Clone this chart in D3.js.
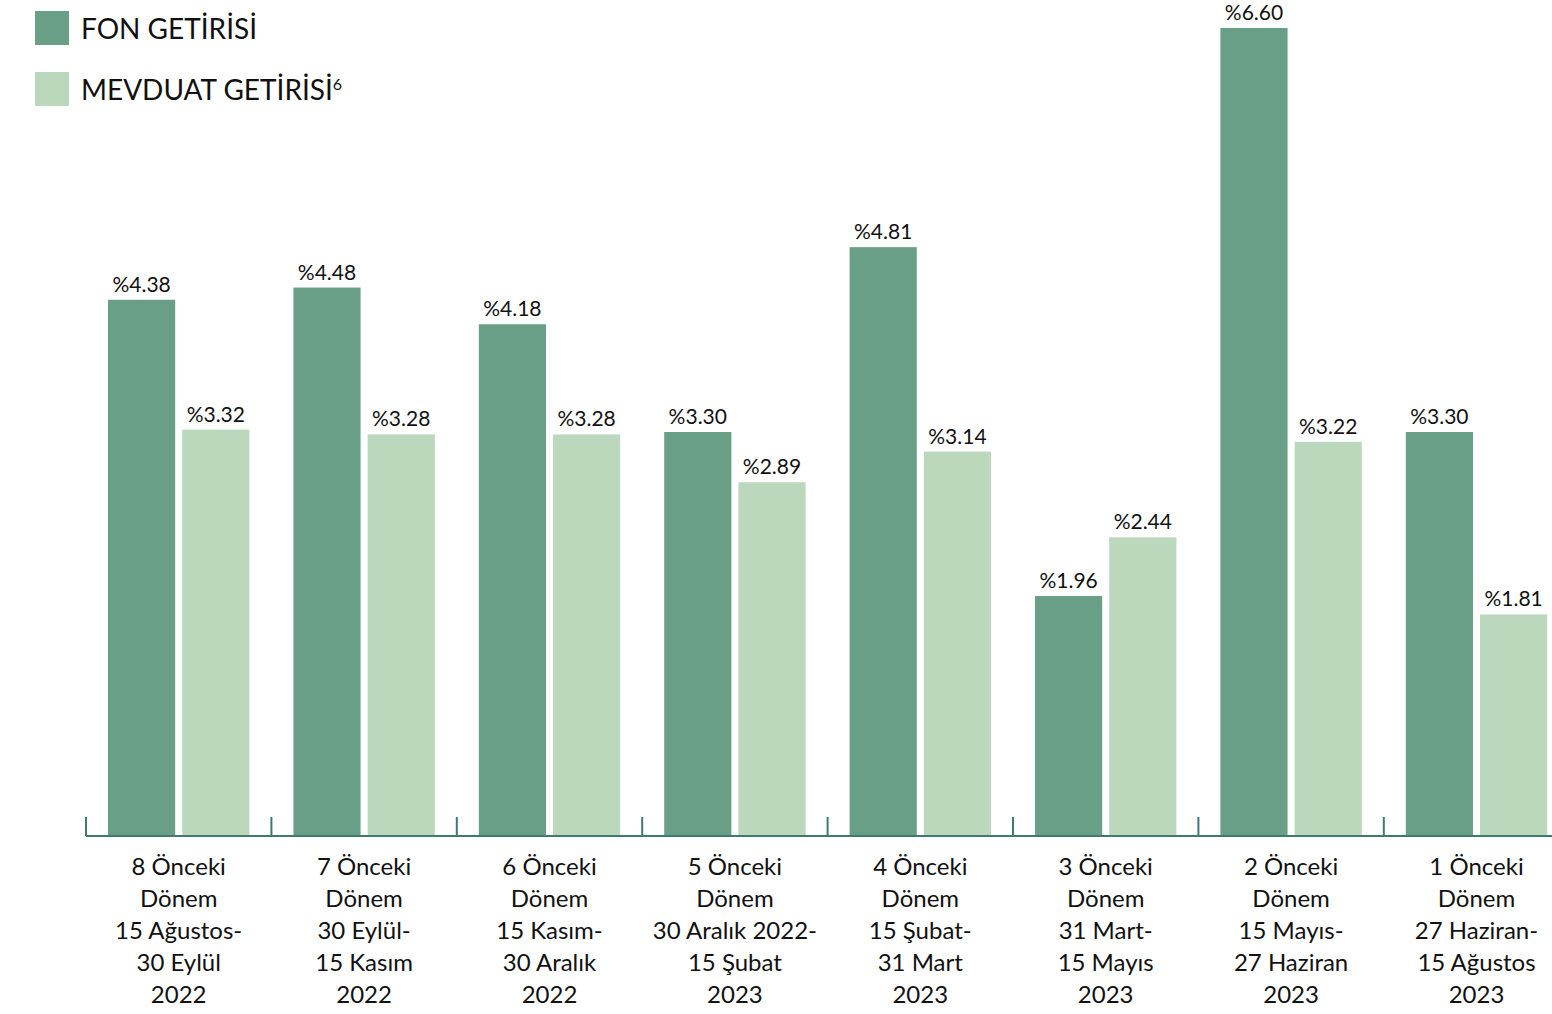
<!DOCTYPE html>
<html>
<head>
<meta charset="utf-8">
<script src="https://cdn.jsdelivr.net/npm/d3@7"></script>
<style>
  body { margin: 0; background: #fff; }
  svg text { font-family: Lato, "Noto Sans", sans-serif; fill: #111; }
</style>
</head>
<body>
<div id="chart"></div>
<script>
// categories: each label is split into lines
const periods = [
    ['8 Önceki', 'Dönem', '15 Ağustos-', '30 Eylül', '2022'],
    ['7 Önceki', 'Dönem', '30 Eylül-', '15 Kasım', '2022'],
    ['6 Önceki', 'Dönem', '15 Kasım-', '30 Aralık', '2022'],
    ['5 Önceki', 'Dönem', '30 Aralık 2022-', '15 Şubat', '2023'],
    ['4 Önceki', 'Dönem', '15 Şubat-', '31 Mart', '2023'],
    ['3 Önceki', 'Dönem', '31 Mart-', '15 Mayıs', '2023'],
    ['2 Önceki', 'Dönem', '15 Mayıs-', '27 Haziran', '2023'],
    ['1 Önceki', 'Dönem', '27 Haziran-', '15 Ağustos', '2023']
];
const fonGetirisi = [4.38, 4.48, 4.18, 3.30, 4.81, 1.96, 6.60, 3.30];
const mevduatGetirisi = [3.32, 3.28, 3.28, 2.89, 3.14, 2.44, 3.22, 1.81];
const seriesNames = ['FON GETİRİSİ', 'MEVDUAT GETİRİSİ'];
const seriesColors = ['#6a9f87', '#bcd8bc'];

const width = 1552, height = 1014;
const margin = { top: 28, left: 86, bottom: 178 };
const bandStep = 185.4;

const svg = d3.select('#chart').append('svg')
    .attr('width', width)
    .attr('height', height);

const x = d3.scaleBand()
    .domain(d3.range(periods.length))
    .range([margin.left, margin.left + bandStep * periods.length])
    .paddingInner(0)
    .paddingOuter(0);

const y = d3.scaleLinear()
    .domain([0, 6.60])
    .range([height - margin.bottom, margin.top]);

// inner band for the two bars of a group
const xs = d3.scaleBand()
    .domain([0, 1])
    .range([22, bandStep - 22])
    .paddingInner(0.095);

const rows = periods.map((p, i) => ({ i, values: [fonGetirisi[i], mevduatGetirisi[i]] }));

const groups = svg.selectAll('.group')
    .data(rows)
    .enter().append('g')
    .attr('class', 'group')
    .attr('transform', d => `translate(${x(d.i)},0)`);

groups.selectAll('rect')
    .data(d => d.values.map((v, s) => ({ v, s })))
    .enter().append('rect')
    .attr('x', d => xs(d.s))
    .attr('y', d => y(d.v))
    .attr('width', xs.bandwidth())
    .attr('height', d => y(0) - y(d.v))
    .attr('fill', d => seriesColors[d.s]);

groups.selectAll('.value')
    .data(d => d.values.map((v, s) => ({ v, s })))
    .enter().append('text')
    .attr('class', 'value')
    .attr('x', d => xs(d.s) + xs.bandwidth() / 2)
    .attr('y', d => y(d.v) - 8)
    .attr('text-anchor', 'middle')
    .style('font-size', '21px')
    .text(d => '%' + d.v.toFixed(2));

// axis line and ticks
const axisColor = '#3d7a70';
svg.append('line')
    .attr('x1', margin.left).attr('x2', width)
    .attr('y1', y(0)).attr('y2', y(0))
    .attr('stroke', axisColor).attr('stroke-width', 2);

svg.selectAll('.tick-mark')
    .data(d3.range(periods.length))
    .enter().append('line')
    .attr('class', 'tick-mark')
    .attr('x1', d => x(d)).attr('x2', d => x(d))
    .attr('y1', y(0) - 19).attr('y2', y(0))
    .attr('stroke', axisColor).attr('stroke-width', 2);

// category labels
const cat = svg.selectAll('.cat')
    .data(rows)
    .enter().append('text')
    .attr('class', 'cat')
    .attr('text-anchor', 'middle')
    .style('font-size', '24px');

cat.selectAll('tspan')
    .data(d => periods[d.i].map(line => ({ line, i: d.i })))
    .enter().append('tspan')
    .attr('x', d => x(d.i) + x.bandwidth() / 2)
    .attr('y', (d, k) => y(0) + 39 + k * 32)
    .text(d => d.line);

// legend
const legend = svg.selectAll('.legend')
    .data(seriesNames)
    .enter().append('g')
    .attr('class', 'legend')
    .attr('transform', (d, i) => `translate(35,${11 + i * 61})`);

legend.append('rect')
    .attr('width', 34).attr('height', 34)
    .attr('fill', (d, i) => seriesColors[i]);

const lt = legend.append('text')
    .attr('x', 46).attr('y', 28)
    .style('font-size', '28px')
    .text(d => d);

lt.filter((d, i) => i === 1).append('tspan')
    .attr('dy', -10)
    .style('font-size', '16px')
    .text('6');
</script>
</body>
</html>
